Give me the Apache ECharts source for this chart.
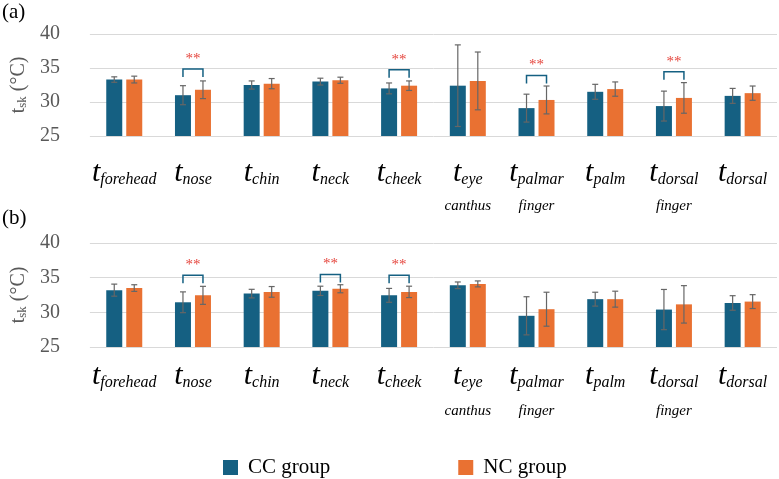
<!DOCTYPE html>
<html lang="en">
  <head>
    <meta charset="UTF-8" />
    <script src="https://cdn.jsdelivr.net/npm/echarts@6/dist/echarts.min.js"></script>
    <title>Skin temperature</title>
    <style>
      html, body { margin: 0; padding: 0; background: #fff; }
      #container { width: 779px; height: 479px; }
    </style>
  </head>
  <body>
    <div id="container"></div>

    <script>
      // sites: first word is the subscript, second word goes on a second line
      const sites = ["forehead", "nose", "chin", "neck", "cheek", "eye canthus", "palmar finger", "palm", "dorsal finger", "dorsal"];
      const yTicks = [25, 30, 35, 40];

      // panel (a)
      const ccA = [33.3, 31.0, 32.5, 33.0, 32.0, 32.4, 29.1, 31.5, 29.4, 30.9];
      const ncA = [33.3, 31.8, 32.7, 33.2, 32.4, 33.1, 30.3, 31.9, 30.6, 31.3];
      const ccAErr = [0.4, 1.4, 0.6, 0.5, 0.8, 6.0, 2.05, 1.1, 2.2, 1.1];
      const ncAErr = [0.5, 1.3, 0.75, 0.45, 0.7, 4.25, 2.05, 1.05, 2.25, 1.05];
      const sigA = [[1, 34.85], [4, 34.75], [6, 33.9], [8, 34.45]];

      // panel (b)
      const ccB = [33.2, 31.45, 32.7, 33.1, 32.45, 33.9, 29.5, 31.9, 30.4, 31.35];
      const ncB = [33.5, 32.45, 32.95, 33.4, 32.95, 34.1, 30.45, 31.9, 31.15, 31.55];
      const ccBErr = [0.87, 1.5, 0.62, 0.67, 1.0, 0.48, 2.75, 1.0, 2.9, 1.05];
      const ncBErr = [0.48, 1.3, 0.77, 0.58, 0.82, 0.43, 2.45, 1.15, 2.7, 1.0];
      const sigB = [[1, 35.35], [3, 35.45], [4, 35.35]];

      const BLUE = "#156082";
      const ORANGE = "#E97132";
      const SERIF = "'Liberation Serif', 'Times New Roman', serif";
      const BAR_W = 16;
      const BAR_GAP = 4;
      const OFF = (BAR_W + BAR_GAP) / 2;

      const myChart = echarts.init(document.getElementById("container"));

      function xLabelRich(line2Height) {
        return {
          t: { fontFamily: SERIF, fontStyle: "italic", fontSize: 30, lineHeight: 30, verticalAlign: "bottom", color: "#000" },
          s: { fontFamily: SERIF, fontStyle: "italic", fontSize: 16, lineHeight: 16, verticalAlign: "bottom", color: "#000" },
          s2: { fontFamily: SERIF, fontStyle: "italic", fontSize: 15, lineHeight: line2Height, color: "#000" },
        };
      }

      function xLabelFormatter(val) {
        const parts = val.split(" ");
        let txt = "{t|t}{s|" + parts[0] + "}";
        if (parts[1]) txt += "\n{s2|" + parts[1] + "}";
        return txt;
      }

      function makeXAxis(gridIndex, margin, line2Height) {
        return {
          type: "category",
          gridIndex: gridIndex,
          data: sites,
          axisLine: { show: false },
          axisTick: { show: false },
          axisLabel: {
            interval: 0,
            margin: margin,
            fontFamily: SERIF,
            formatter: xLabelFormatter,
            rich: xLabelRich(line2Height),
          },
        };
      }

      function makeYAxis(gridIndex) {
        return {
          type: "value",
          gridIndex: gridIndex,
          min: yTicks[0],
          max: yTicks[yTicks.length - 1],
          interval: 5,
          axisLine: { show: false },
          axisTick: { show: false },
          splitLine: { lineStyle: { color: "#d9d9d9", width: 1 } },
          axisLabel: { margin: 30, fontFamily: SERIF, fontSize: 20, color: "#595959" },
          name: "{t|t}{s|sk} (°C)",
          nameLocation: "middle",
          nameRotate: 90,
          nameGap: 56,
          nameTextStyle: {
            fontFamily: SERIF,
            fontSize: 20,
            color: "#595959",
            rich: {
              t: { fontFamily: SERIF, fontSize: 21, color: "#595959", verticalAlign: "bottom", lineHeight: 20 },
              s: { fontFamily: SERIF, fontSize: 13, color: "#595959", verticalAlign: "bottom", lineHeight: 13 },
            },
          },
        };
      }

      function barSeries(name, data, color, idx) {
        return {
          name: name,
          type: "bar",
          xAxisIndex: idx,
          yAxisIndex: idx,
          data: data,
          barWidth: BAR_W,
          barGap: (BAR_GAP / BAR_W) * 100 + "%",
          itemStyle: { color: color },
        };
      }

      function errorSeries(means, errs, offset, idx) {
        return {
          type: "custom",
          xAxisIndex: idx,
          yAxisIndex: idx,
          z: 5,
          silent: true,
          data: means.map((m, i) => [i, m, errs[i]]),
          renderItem: function (params, api) {
            const i = api.value(0);
            const m = api.value(1);
            const e = api.value(2);
            const hi = api.coord([i, m + e]);
            const lo = api.coord([i, m - e]);
            const x = hi[0] + offset;
            const cap = 3;
            const st = { stroke: "#666666", lineWidth: 1.2, fill: null };
            return {
              type: "group",
              children: [
                { type: "line", shape: { x1: x, y1: hi[1], x2: x, y2: lo[1] }, style: st },
                { type: "line", shape: { x1: x - cap, y1: hi[1], x2: x + cap, y2: hi[1] }, style: st },
                { type: "line", shape: { x1: x - cap, y1: lo[1], x2: x + cap, y2: lo[1] }, style: st },
              ],
            };
          },
        };
      }

      function sigSeries(sig, idx) {
        return {
          type: "custom",
          xAxisIndex: idx,
          yAxisIndex: idx,
          z: 6,
          silent: true,
          data: sig,
          renderItem: function (params, api) {
            const p = api.coord([api.value(0), api.value(1)]);
            const x1 = p[0] - OFF;
            const x2 = p[0] + OFF;
            const y = p[1];
            const leg = 8;
            return {
              type: "group",
              children: [
                {
                  type: "polyline",
                  shape: { points: [[x1, y + leg], [x1, y], [x2, y], [x2, y + leg]] },
                  style: { stroke: BLUE, lineWidth: 1.5, fill: null },
                },
                {
                  type: "text",
                  x: p[0],
                  y: y - 10,
                  style: {
                    text: "**",
                    fill: "#e5453d",
                    font: "15px " + SERIF,
                    align: "center",
                    verticalAlign: "middle",
                  },
                },
              ],
            };
          },
        };
      }

      const option = {
        animation: false,
        grid: [
          { left: 78, right: 2, top: 34, height: 102 },
          { left: 78, right: 2, top: 243, height: 104 },
        ],
        xAxis: [makeXAxis(0, 22, 36), makeXAxis(1, 14, 40)],
        yAxis: [makeYAxis(0), makeYAxis(1)],
        legend: {
          data: ["CC group", "NC group"],
          left: 218,
          top: 452,
          icon: "rect",
          itemWidth: 15,
          itemHeight: 15,
          itemGap: 128,
          textStyle: { fontFamily: SERIF, fontSize: 21, color: "#000", padding: [0, 0, 0, 5] },
        },
        graphic: [
          { type: "text", left: 2, top: 2, style: { text: "(a)", font: "21px " + SERIF, fill: "#000" } },
          { type: "text", left: 2, top: 208, style: { text: "(b)", font: "21px " + SERIF, fill: "#000" } },
        ],
        series: [
          barSeries("CC group", ccA, BLUE, 0),
          barSeries("NC group", ncA, ORANGE, 0),
          errorSeries(ccA, ccAErr, -OFF, 0),
          errorSeries(ncA, ncAErr, OFF, 0),
          sigSeries(sigA, 0),
          barSeries("CC group", ccB, BLUE, 1),
          barSeries("NC group", ncB, ORANGE, 1),
          errorSeries(ccB, ccBErr, -OFF, 1),
          errorSeries(ncB, ncBErr, OFF, 1),
          sigSeries(sigB, 1),
        ],
      };

      myChart.setOption(option);
    </script>
  </body>
</html>
